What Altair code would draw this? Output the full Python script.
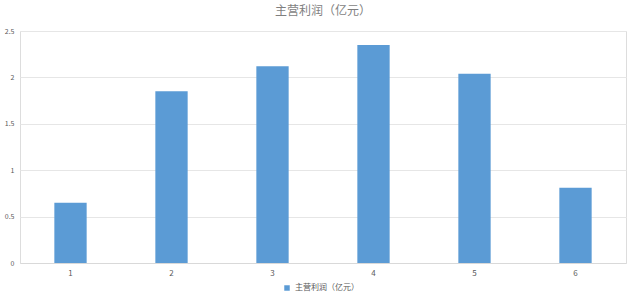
import altair as alt
import pandas as pd

categories = ["1", "2", "3", "4", "5", "6"]
values = [0.65, 1.85, 2.12, 2.35, 2.04, 0.81]
series_name = "主营利润（亿元）"
title_text = "主营利润（亿元）"

df = pd.DataFrame({"cat": categories, "val": values, "series": [series_name] * len(categories)})

chart = alt.Chart(df).mark_bar(color="#5B9BD5").encode(
    x=alt.X("cat:N", sort=categories, title=None,
            scale=alt.Scale(paddingInner=0.68, paddingOuter=0.34),
            axis=alt.Axis(labelAngle=0, labelFontSize=8, labelColor="#595959",
                          domainColor="#D9D9D9", ticks=False, labelPadding=6,
                          labelFont="Noto Sans CJK SC")),
    y=alt.Y("val:Q", title=None,
            scale=alt.Scale(domain=[0, 2.5]),
            axis=alt.Axis(values=[0, 0.5, 1, 1.5, 2, 2.5], format="~g", labelFontSize=7,
                          labelColor="#595959", domain=False, ticks=False,
                          gridColor="#E6E6E6", labelPadding=6,
                          labelFont="Noto Sans CJK SC")),
    fill=alt.Fill("series:N", scale=alt.Scale(range=["#5B9BD5"]),
                  legend=alt.Legend(title=None, orient="none", legendX=263, legendY=253,
                                    symbolType="square", symbolSize=30,
                                    labelFontSize=8, labelColor="#595959",
                                    labelFont="Noto Sans CJK SC")),
).properties(
    width=606, height=232,
    title=alt.TitleParams(title_text, fontSize=12, color="#7F7F7F", fontWeight="normal",
                          font="Noto Sans CJK SC", anchor="middle", offset=9),
    autosize=alt.AutoSizeParams(type="none"),
    padding={"left": 20, "top": 31, "right": 14, "bottom": 39},
).configure_view(stroke=None).configure(background="white")

chart.save("out.html", embed_options={"renderer": "svg", "actions": False})
